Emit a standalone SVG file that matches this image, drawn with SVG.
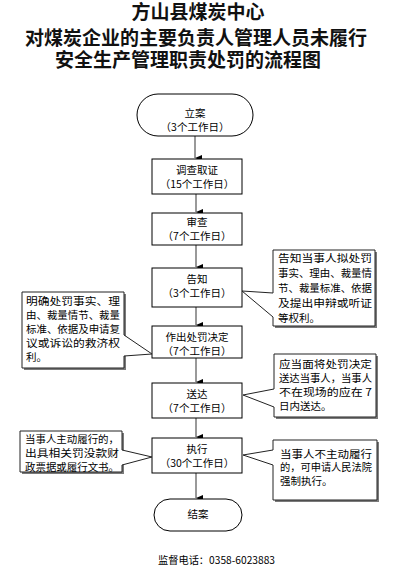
<svg xmlns="http://www.w3.org/2000/svg" width="400" height="571" viewBox="0 0 400 571">
<defs>
<style>
.t{font-family:"Liberation Serif","Noto Sans CJK SC",serif;font-size:19px;font-weight:bold;fill:#111;text-anchor:middle}
.n{font-family:"Noto Sans CJK SC",sans-serif;font-size:10.5px;fill:#000;text-anchor:middle}
.c{font-family:"Noto Sans CJK SC",sans-serif;font-size:10.5px;fill:#000}
.s{font-size:10px}
.box{fill:#fff;stroke:#000;stroke-width:1}
.sh{fill:#7a7a7a;stroke:none}
.co{fill:#fff;stroke:#222;stroke-width:1}
.ln{stroke:#555;stroke-width:1.2;fill:none}
</style>
<marker id="ah" viewBox="0 0 6 7" refX="3" refY="7" markerWidth="6" markerHeight="7" markerUnits="userSpaceOnUse" orient="auto-start-reverse">
<path d="M0,0 L6,0 L3,7 Z" fill="#000"/>
</marker>
</defs>
<rect width="400" height="571" fill="#fff"/>
<g id="title">
<text class="t" x="198" y="19">方山县煤炭中心</text>
<text class="t" x="196" y="44.5">对煤炭企业的主要负责人管理人员未履行</text>
<text class="t" x="188" y="67">安全生产管理职责处罚的流程图</text>
</g>
<g id="connectors">
<line class="ln" x1="195" y1="136" x2="195" y2="158"/>
<line class="ln" x1="196" y1="194" x2="196" y2="212"/>
<line class="ln" x1="196" y1="245" x2="196" y2="267"/>
<line class="ln" x1="196" y1="307" x2="196" y2="325"/>
<line class="ln" x1="196" y1="358" x2="196" y2="382"/>
<line class="ln" x1="196" y1="418" x2="196" y2="437"/>
<line class="ln" x1="196" y1="473" x2="196" y2="498"/>
<path d="M195,151 L195,158" stroke="none" marker-end="url(#ah)"/>
<path d="M196,205 L196,212" stroke="none" marker-end="url(#ah)"/>
<path d="M196,260 L196,267" stroke="none" marker-end="url(#ah)"/>
<path d="M196,318 L196,325" stroke="none" marker-end="url(#ah)"/>
<path d="M196,375 L196,382" stroke="none" marker-end="url(#ah)"/>
<path d="M196,430 L196,437" stroke="none" marker-end="url(#ah)"/>
<path d="M196,491 L196,498" stroke="none" marker-end="url(#ah)"/>
</g>
<g id="start">
<rect class="box" x="137" y="94" width="116" height="42" rx="21" ry="21"/>
<text class="n" x="195" y="116.5">立案</text>
<text class="n" x="195" y="130.5">（3个工作日）</text>
</g>
<g id="investigate">
<rect class="box" x="152" y="159" width="90" height="35"/>
<text class="n" x="197" y="174">调查取证</text>
<text class="n" x="197" y="188">（15个工作日）</text>
</g>
<g id="review">
<rect class="box" x="152" y="213" width="90" height="32"/>
<text class="n" x="197" y="225.5">审查</text>
<text class="n" x="197" y="239.5">（7个工作日）</text>
</g>
<g id="notify">
<rect class="box" x="152" y="268" width="90" height="39"/>
<text class="n" x="197" y="282.5">告知</text>
<text class="n" x="197" y="296.5">（3个工作日）</text>
</g>
<g id="decide">
<rect class="box" x="152" y="326" width="90" height="32"/>
<text class="n" x="197" y="341">作出处罚决定</text>
<text class="n" x="197" y="355">（7个工作日）</text>
</g>
<g id="deliver">
<rect class="box" x="152" y="383" width="90" height="35"/>
<text class="n" x="197" y="398">送达</text>
<text class="n" x="197" y="412">（7个工作日）</text>
</g>
<g id="execute">
<rect class="box" x="152" y="438" width="90" height="35"/>
<text class="n" x="197" y="453">执行</text>
<text class="n" x="197" y="467">（30个工作日）</text>
</g>
<g id="end">
<rect class="box" x="154" y="499" width="88" height="32" rx="16" ry="16"/>
<text class="n" x="198" y="518">结案</text>
</g>
<g id="note-notify">
<rect class="sh" x="275" y="252" width="102" height="76"/>
<path class="co" d="M273,250 H375 V326 H273 V317 L242,291 L273,293 Z"/>
<text class="c" x="278" y="262" textLength="94" lengthAdjust="spacingAndGlyphs">告知当事人拟处罚</text>
<text class="c" x="278" y="277" textLength="94" lengthAdjust="spacingAndGlyphs">事实、理由、裁量情</text>
<text class="c" x="278" y="292" textLength="94" lengthAdjust="spacingAndGlyphs">节、裁量标准、依据</text>
<text class="c" x="278" y="307" textLength="94" lengthAdjust="spacingAndGlyphs">及提出申辩或听证</text>
<text class="c" x="278" y="321.5">等权利。</text>
</g>
<g id="note-decide">
<rect class="sh" x="24" y="294" width="102" height="76"/>
<path class="co" d="M22,292 H124 V335 L152,354 L124,356 V368 H22 Z"/>
<text class="c" x="26" y="304.5" textLength="94" lengthAdjust="spacingAndGlyphs">明确处罚事实、理</text>
<text class="c" x="26" y="318.5" textLength="94" lengthAdjust="spacingAndGlyphs">由、裁量情节、裁量</text>
<text class="c" x="26" y="332.5" textLength="94" lengthAdjust="spacingAndGlyphs">标准、依据及申请复</text>
<text class="c" x="26" y="346.5" textLength="94" lengthAdjust="spacingAndGlyphs">议或诉讼的救济权</text>
<text class="c" x="26" y="360.5">利。</text>
</g>
<g id="note-deliver">
<rect class="sh" x="276" y="356" width="102" height="63"/>
<path class="co" d="M274,354 H376 V417 H274 V407 L243,395 L274,389 Z"/>
<text class="c" x="279" y="367.5" textLength="93" lengthAdjust="spacingAndGlyphs">应当面将处罚决定</text>
<text class="c" x="279" y="381.5" textLength="93" lengthAdjust="spacingAndGlyphs">送达当事人，当事人</text>
<text class="c" x="279" y="395.5" textLength="93" lengthAdjust="spacingAndGlyphs">不在现场的应在 7</text>
<text class="c" x="279" y="409.5">日内送达。</text>
</g>
<g id="note-execute-left">
<rect class="sh" x="22" y="433" width="102" height="41"/>
<path class="co" d="M20,431 H122 V450 L152,457 L122,465 V472 H20 Z"/>
<text class="c s" x="25" y="442.5" textLength="94" lengthAdjust="spacingAndGlyphs">当事人主动履行的，</text>
<text class="c s" x="25" y="456.5" textLength="94" lengthAdjust="spacingAndGlyphs">出具相关罚没款财</text>
<text class="c s" x="25" y="470.5" textLength="94" lengthAdjust="spacingAndGlyphs">政票据或履行文书。</text>
</g>
<g id="note-execute-right">
<rect class="sh" x="275" y="442" width="104" height="60"/>
<path class="co" d="M273,440 H377 V500 H273 V465 L243,455 L273,450 Z"/>
<text class="c" x="280" y="457.5" textLength="92" lengthAdjust="spacingAndGlyphs">当事人不主动履行</text>
<text class="c" x="280" y="471" textLength="92" lengthAdjust="spacingAndGlyphs">的，可申请人民法院</text>
<text class="c" x="280" y="484.5">强制执行。</text>
</g>
<g id="footer">
<text class="c" x="158" y="564" textLength="117" lengthAdjust="spacingAndGlyphs">监督电话：0358-6023883</text>
</g>
</svg>
